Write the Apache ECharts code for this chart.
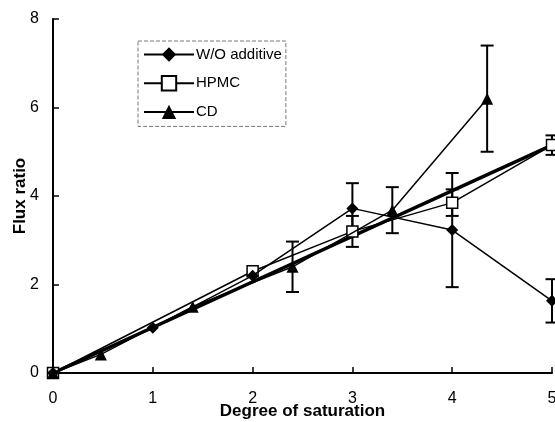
<!DOCTYPE html>
<html>
<head>
<meta charset="utf-8">
<script src="https://cdn.jsdelivr.net/npm/echarts@6/dist/echarts.min.js"></script>
<style>
  html, body { margin: 0; padding: 0; background: #fff; }
  #chart { width: 555px; height: 422px; }
</style>
</head>
<body>
<div id="chart"></div>
<script>
// 数据：横坐标为饱和度，纵坐标为通量比
const woX = [0, 1, 2, 3, 4, 5];
const woY = [0, 1.02, 2.2, 3.72, 3.23, 1.63];
const woErr = [0, 0, 0, 0.57, 1.29, 0.49];

const hpX = [0, 2, 3, 4, 5];
const hpY = [0, 2.3, 3.2, 3.85, 5.15];
const hpErr = [0, 0, 0.35, 0.3, 0.22];

const cdX = [0, 0.48, 1.4, 2.4, 3.4, 4.35];
const cdY = [0, 0.42, 1.5, 2.4, 3.68, 6.2];
const cdErr = [0, 0, 0, 0.57, 0.52, 1.2];

// 粗线（拟合线）
const fitX = [0, 5];
const fitY = [0, 5.15];

const font = 'Liberation Sans, Arial, sans-serif';

function pairs(xs, ys) {
  return xs.map((x, i) => [x, ys[i]]);
}

// 误差棒
function errData(xs, ys, es) {
  const out = [];
  xs.forEach((x, i) => {
    if (es[i] > 0) out.push([x, ys[i] - es[i], ys[i] + es[i]]);
  });
  return out;
}

function errSeries(xs, ys, es) {
  return {
    type: 'custom',
    silent: true,
    z: 1,
    data: errData(xs, ys, es),
    renderItem: function (params, api) {
      const lo = api.coord([api.value(0), api.value(1)]);
      const hi = api.coord([api.value(0), api.value(2)]);
      const w = 6.5;
      const st = { stroke: '#000', lineWidth: 2 };
      return {
        type: 'group',
        children: [
          { type: 'line', shape: { x1: lo[0], y1: lo[1], x2: hi[0], y2: hi[1] }, style: st },
          { type: 'line', shape: { x1: lo[0] - w, y1: lo[1], x2: lo[0] + w, y2: lo[1] }, style: st },
          { type: 'line', shape: { x1: hi[0] - w, y1: hi[1], x2: hi[0] + w, y2: hi[1] }, style: st }
        ]
      };
    }
  };
}

let myChart = echarts.init(document.getElementById('chart'));

let option = {
  animation: false,
  backgroundColor: '#fff',
  grid: { left: 53, right: 3, top: 19, bottom: 49, outerBoundsMode: 'none', containLabel: false },
  legend: {
    data: ['W/O additive', 'HPMC', 'CD'],
    orient: 'vertical',
    left: 138,
    top: 41,
    padding: [6, 4, 7, 5],
    itemGap: 13,
    itemWidth: 50,
    itemHeight: 18,
    borderColor: '#777',
    borderWidth: 1,
    borderType: 'dashed',
    textStyle: { color: '#000', fontSize: 15, fontFamily: font, padding: [0, 0, 0, -3] }
  },
  xAxis: {
    type: 'value',
    min: 0,
    max: 5,
    interval: 1,
    name: 'Degree of saturation',
    nameLocation: 'middle',
    nameGap: 30,
    nameMoveOverlap: false,
    nameTextStyle: { color: '#000', fontSize: 17, fontWeight: 'bold', fontFamily: font },
    axisLine: { show: true, onZero: false, lineStyle: { color: '#000', width: 2 } },
    axisTick: { show: true, inside: true, length: 6, lineStyle: { color: '#000', width: 1.5 } },
    axisLabel: { color: '#000', fontSize: 16, fontFamily: font, margin: 18 },
    splitLine: { show: false }
  },
  yAxis: {
    type: 'value',
    min: 0,
    max: 8,
    interval: 2,
    name: 'Flux ratio',
    nameLocation: 'middle',
    nameGap: 24,
    nameMoveOverlap: false,
    nameTextStyle: { color: '#000', fontSize: 17, fontWeight: 'bold', fontFamily: font },
    axisLine: { show: true, lineStyle: { color: '#000', width: 2 } },
    axisTick: { show: true, inside: true, length: 6, lineStyle: { color: '#000', width: 1.5 } },
    axisLabel: { color: '#000', fontSize: 16, fontFamily: font, margin: 14 },
    splitLine: { show: false }
  },
  series: [
    {
      name: 'fit',
      type: 'line',
      data: pairs(fitX, fitY),
      symbol: 'none',
      silent: true,
      z: 1,
      lineStyle: { color: '#000', width: 3.5 }
    },
    errSeries(woX, woY, woErr),
    errSeries(hpX, hpY, hpErr),
    errSeries(cdX, cdY, cdErr),
    {
      name: 'W/O additive',
      type: 'line',
      data: pairs(woX, woY),
      symbol: 'diamond',
      symbolSize: 12,
      z: 3,
      itemStyle: { color: '#000' },
      lineStyle: { color: '#000', width: 1.5 }
    },
    {
      name: 'HPMC',
      type: 'line',
      data: pairs(hpX, hpY),
      symbol: 'rect',
      symbolSize: 11,
      z: 2,
      itemStyle: { color: '#fff', borderColor: '#000', borderWidth: 1.5 },
      lineStyle: { color: '#000', width: 1.5 }
    },
    {
      name: 'CD',
      type: 'line',
      data: pairs(cdX, cdY),
      symbol: 'triangle',
      symbolSize: 12,
      z: 3,
      itemStyle: { color: '#000' },
      lineStyle: { color: '#000', width: 1.5 }
    }
  ]
};

myChart.setOption(option);

window.addEventListener('resize', function () {
  myChart.resize();
});
</script>
</body>
</html>
